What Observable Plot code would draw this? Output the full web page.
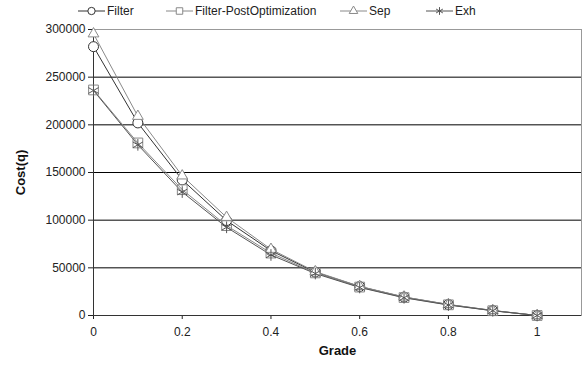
<!DOCTYPE html>
<html>
<head>
<meta charset="utf-8">
<script src="https://cdn.jsdelivr.net/npm/d3@7"></script>
<script src="https://cdn.jsdelivr.net/npm/@observablehq/plot@0.6"></script>
<style>
  html, body { margin: 0; padding: 0; background: #fff; }
  body { width: 582px; height: 370px; overflow: hidden; font-family: "Liberation Sans", Arial, sans-serif; }
  #legend { position: relative; height: 22px; font-size: 12px; color: #222; }
  .item { position: absolute; top: 4px; display: flex; align-items: center; gap: 2px; white-space: nowrap; }
  .item svg { display: block; }
  #chart svg { display: block; }
  #chart g[aria-label="y-axis label"] text, #chart g[aria-label="x-axis label"] text { font-weight: bold; font-size: 13px; fill: #111; }
</style>
</head>
<body>
<div id="legend"></div>
<div id="chart"></div>
<script>
const grades = [0, 0.1, 0.2, 0.3, 0.4, 0.5, 0.6, 0.7, 0.8, 0.9, 1];
const seriesNames = ["Filter", "Filter-PostOptimization", "Sep", "Exh"];
const filterCost = [282000, 202000, 142300, 99600, 68000, 45500, 30400, 19300, 11500, 5200, 0];
const filterPostCost = [236600, 181000, 132000, 94300, 65500, 44700, 29800, 18800, 11200, 5000, 0];
const sepCost = [295500, 209000, 146500, 103000, 69500, 46000, 30600, 19500, 11600, 5300, 0];
const exhCost = [236000, 179000, 129500, 92500, 63500, 44000, 29400, 18600, 11000, 5000, 0];
const yTicks = [0, 50000, 100000, 150000, 200000, 250000, 300000];
const xTicks = [0, 0.2, 0.4, 0.6, 0.8, 1];

const styles = {
  "Filter": {stroke: "#333", symbol: "circle", r: 5, fill: "white"},
  "Filter-PostOptimization": {stroke: "#888", symbol: "square", r: 5.5, fill: "none"},
  "Sep": {stroke: "#8a8a8a", symbol: "triangle", r: 4, fill: "white"},
  "Exh": {stroke: "#555", symbol: "asterisk", r: 5.5, fill: "none"}
};
const values = {"Filter": filterCost, "Filter-PostOptimization": filterPostCost, "Sep": sepCost, "Exh": exhCost};

const rows = seriesNames.flatMap(s => grades.map((g, i) => ({series: s, grade: g, cost: values[s][i]})));

const marks = [
  Plot.gridY(yTicks.filter(d => d > 0 && d < 300000), {stroke: "#000", strokeOpacity: 1, strokeWidth: 1}),
  Plot.frame({stroke: "#999"}),
  Plot.axisY({ticks: yTicks, tickFormat: d3.format("d"), tickSize: 5, tickPadding: 3, fontSize: 12, label: "Cost(q)", labelAnchor: "center", labelArrow: "none", labelOffset: 78}),
  Plot.axisX({ticks: xTicks, tickFormat: d => String(d), tickSize: 4, tickPadding: 8, fontSize: 12, label: "Grade", labelAnchor: "center", labelArrow: "none", labelOffset: 39}),
  Plot.ruleX([0], {stroke: "#333"}),
  Plot.ruleY([0], {stroke: "#333"})
];
for (const s of seriesNames) {
  const st = styles[s];
  const data = rows.filter(d => d.series === s);
  marks.push(Plot.line(data, {x: "grade", y: "cost", stroke: st.stroke, strokeWidth: 1}));
}
for (const s of seriesNames) {
  const st = styles[s];
  const data = rows.filter(d => d.series === s);
  marks.push(Plot.dot(data, {x: "grade", y: "cost", symbol: () => st.symbol, r: st.r, stroke: st.stroke, fill: st.fill, strokeWidth: 1}));
}

const chart = Plot.plot({
  width: 582,
  height: 348,
  marginTop: 7,
  marginLeft: 93,
  marginRight: 1,
  marginBottom: 55,
  style: {fontFamily: "'Liberation Sans', Arial, sans-serif", fontSize: "12px", color: "#222", background: "white"},
  x: {domain: [0, 1.1]},
  y: {domain: [0, 300000]},
  marks
});
document.getElementById("chart").appendChild(chart);

// Legend
const legendLeft = {"Filter": 78, "Filter-PostOptimization": 166, "Sep": 340, "Exh": 426};
const leg = document.getElementById("legend");
for (const s of seriesNames) {
  const st = styles[s];
  const item = document.createElement("div");
  item.className = "item";
  item.style.left = legendLeft[s] + "px";
  const sw = d3.create("svg").attr("width", 27).attr("height", 12);
  sw.append("line").attr("x1", 0).attr("x2", 27).attr("y1", 6).attr("y2", 6).attr("stroke", st.stroke);
  const sym = {circle: d3.symbolCircle, square: d3.symbolSquare, triangle: d3.symbolTriangle, asterisk: d3.symbolAsterisk}[st.symbol];
  sw.append("path").attr("d", d3.symbol(sym, st.symbol === "triangle" ? 32 : 42)()).attr("transform", "translate(13.5,6)")
    .attr("stroke", st.stroke).attr("fill", st.symbol === "asterisk" ? "none" : "white");
  item.appendChild(sw.node());
  const label = document.createElement("span");
  label.textContent = s;
  item.appendChild(label);
  leg.appendChild(item);
}
</script>
</body>
</html>
